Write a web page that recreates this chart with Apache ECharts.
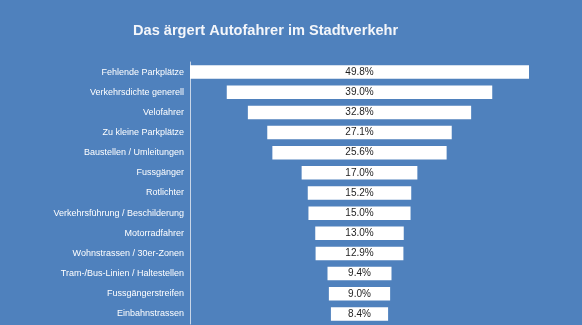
<!DOCTYPE html>
<html><head><meta charset="utf-8">
<script src="https://cdn.jsdelivr.net/npm/echarts@6/dist/echarts.min.js"></script>
<style>html,body{margin:0;padding:0;background:#4F81BD;}#c{width:582px;height:325px;}</style>
</head><body><div id="c"></div>
<script>
const categories = ["Fehlende Parkplätze","Verkehrsdichte generell","Velofahrer","Zu kleine Parkplätze","Baustellen / Umleitungen","Fussgänger","Rotlichter","Verkehrsführung / Beschilderung","Motorradfahrer","Wohnstrassen / 30er-Zonen","Tram-/Bus-Linien / Haltestellen","Fussgängerstreifen","Einbahnstrassen"];
const values = [49.8,39.0,32.8,27.1,25.6,17.0,15.2,15.0,13.0,12.9,9.4,9.0,8.4];
const maxV = Math.max(...values);
const offsets = values.map(v => (maxV - v) / 2);
const chart = echarts.init(document.getElementById('c'));
chart.setOption({
  backgroundColor: '#4F81BD',
  animation: false,
  title: {text: 'Das ärgert Autofahrer im Stadtverkehr', left: 128, top: 18,
    textStyle: {color: '#F4F6FA', fontSize: 14.6, fontWeight: 'bold', fontFamily: 'Liberation Sans'}},
  grid: {left: 190, right: 53, top: 62, bottom: 1, containLabel: false},
  xAxis: {type: 'value', min: 0, max: maxV, show: false},
  yAxis: {type: 'category', data: categories, inverse: true,
    axisLine: {show: true, lineStyle: {color: '#C9D6E8', width: 1}},
    axisTick: {show: false},
    axisLabel: {color: '#FFFFFF', fontSize: 9, fontFamily: 'Liberation Sans', margin: 6}},
  series: [
    {type: 'bar', stack: 's', data: offsets, itemStyle: {color: 'transparent'}, barCategoryGap: '33%', silent: true},
    {type: 'bar', stack: 's', data: values, itemStyle: {color: '#FFFFFF'},
      label: {show: true, position: 'inside', color: '#1E1E1E', fontSize: 10, fontFamily: 'Liberation Sans',
        formatter: p => p.value.toFixed(1) + '%'}}
  ]
});
</script></body></html>
